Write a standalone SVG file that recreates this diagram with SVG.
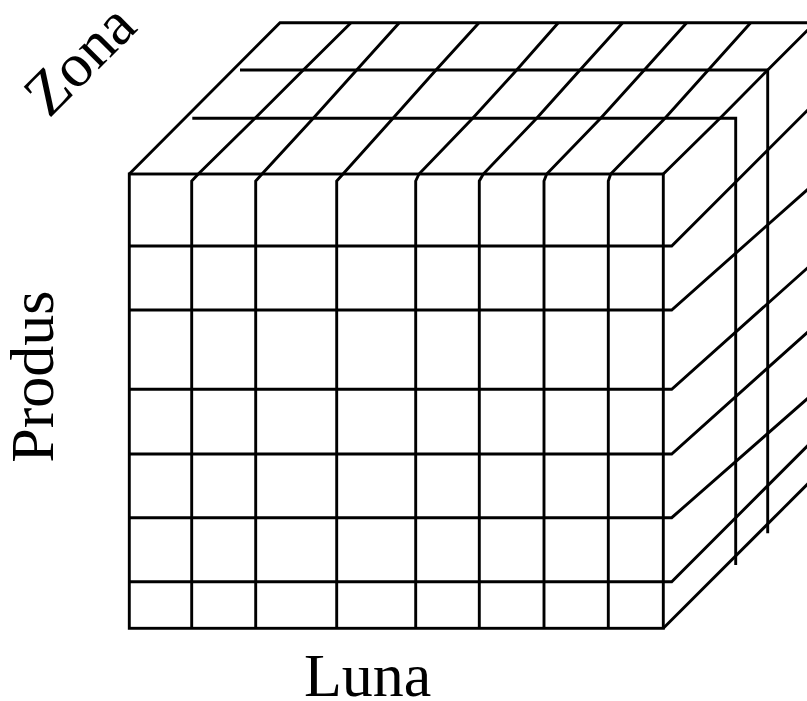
<svg xmlns="http://www.w3.org/2000/svg" width="807" height="701" viewBox="0 0 807 701">
<style>
.ln{fill:none;stroke:#000;stroke-width:2.9;stroke-linejoin:miter;stroke-linecap:butt}
text{font-family:"Times New Roman","Liberation Serif",Times,serif;font-size:62px;fill:#000}
</style>
<rect width="807" height="701" fill="#fff"/>
<g id="front-face" class="ln">
<rect x="129.3" y="174" width="534" height="454.3"/>
<path d="M129.3 246H663.3M129.3 310H663.3M129.3 389.3H663.3M129.3 454H663.3M129.3 517.7H663.3M129.3 581.7H663.3"/>
</g>
<g id="top-face" class="ln">
<path d="M129.3 174L280 22.7H810"/>
<path d="M192.3 118.3H735.7V565"/>
<path d="M240 70H767.7V533.3"/>
<polyline points="191.7,628.3 191.7,181 198.3,174 255,118.3 303.3,70 351,22.7"/>
<polyline points="255.7,628.3 255.7,181 262,174 313.3,118.3 356.7,70 399.3,22.7"/>
<polyline points="336.7,628.3 336.7,181 343,174 393,118.3 436,70 479,22.7"/>
<polyline points="415.7,628.3 415.7,181 419,174 472.7,118.3 516.7,70 558.3,22.7"/>
<polyline points="479.3,628.3 479.3,181 483.3,174 536.7,118.3 580,70 622.7,22.7"/>
<polyline points="544,628.3 544,181 546.7,174 600.7,118.3 644.3,70 686.7,22.7"/>
<polyline points="608.3,628.3 608.3,181 610.7,174 665,118.3 708.3,70 750.7,22.7"/>
<path d="M663.3 174L720 118.3L767.7 70L815 22.7"/>
</g>
<g id="right-face" class="ln">
<path d="M663.3 246H671.7L810 107.7"/>
<path d="M663.3 310H671.7L810 187.3"/>
<path d="M663.3 389.3H671.7L810 265.7"/>
<path d="M663.3 454H671.7L810 330"/>
<path d="M663.3 517.7H671.7L810 396.4"/>
<path d="M663.3 581.7H671.7L810 443.4"/>
<path d="M663.3 628.3L810 481.6"/>
</g>
<g id="labels">
<text x="304" y="696">Luna</text>
<text transform="translate(53.3,376.7) rotate(-90)" text-anchor="middle">Produs</text>
<text transform="translate(49,119) rotate(-45)">Zona</text>
</g>
</svg>
